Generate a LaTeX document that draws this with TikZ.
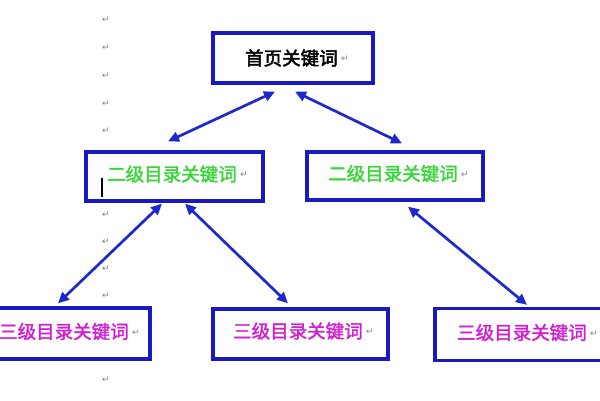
\documentclass[tikz,border=0pt]{standalone}
\usepackage{fontspec}
\newfontfamily\cjk[FakeBold=1.8]{Noto Sans CJK SC}
\newfontfamily\cjkb[FakeBold=2.6]{Noto Sans CJK SC}
\newfontfamily\dv{DejaVu Sans}
\usetikzlibrary{arrows.meta}
\definecolor{boxblue}{RGB}{25,25,195}
\definecolor{arrblue}{RGB}{30,40,205}
\definecolor{kgreen}{RGB}{55,215,55}
\definecolor{kmag}{RGB}{210,30,210}
\definecolor{retgray}{RGB}{130,130,130}
\begin{document}
\begin{tikzpicture}[x=1pt,y=-1pt,
  kbox/.style={draw=boxblue,line width=3.3pt,inner sep=0pt},
  ktext/.style={anchor=west,inner sep=0pt,font=\cjk\fontsize{18.5pt}{20pt}\selectfont},
  ktop/.style={anchor=west,inner sep=0pt,font=\cjkb\fontsize{18.5pt}{20pt}\selectfont,text=black},
  lvtwo/.style={ktext,text=kgreen},
  lvthree/.style={ktext,text=kmag},
  retmark/.style={inner sep=0pt,text=retgray,font=\dv\fontsize{9pt}{10pt}\selectfont},
  arr/.style={{Triangle[length=11pt,width=10pt]}-{Triangle[length=11pt,width=10pt]},draw=arrblue,line width=2.7pt}
]
\useasboundingbox (0,0) rectangle (600,400);
\fill[white] (0,0) rectangle (600,400);

% boxes
\node[kbox,minimum width=160pt,minimum height=50pt] (top) at (293,58) {};
\node[kbox,minimum width=177pt,minimum height=49pt] (La) at (174.5,176.5) {};
\node[kbox,minimum width=176pt,minimum height=48pt] (Lb) at (395,176) {};
\node[kbox,minimum width=172pt,minimum height=51pt] (Ma) at (64,333.5) {};
\node[kbox,minimum width=175pt,minimum height=50pt] (Mb) at (300.5,334) {};
\node[kbox,minimum width=177pt,minimum height=52pt] (Mc) at (523.5,334.5) {};

% texts
\node[ktop] (ttop) at (245,58) {首页关键词};
\node[lvtwo] (tLa) at (107,174) {二级目录关键词};
\node[lvtwo] (tLb) at (328,173.5) {二级目录关键词};
\node[lvthree] (tMa) at (-1,331.5) {三级目录关键词};
\node[lvthree] (tMb) at (233,331) {三级目录关键词};
\node[lvthree] (tMc) at (457,332.5) {三级目录关键词};

% paragraph marks after texts
\foreach \t in {ttop,tLa,tLb,tMa,tMb,tMc}
  \node[retmark,anchor=west] (r\t) at ([xshift=3pt,yshift=-1pt]\t.east) {↵};

% left column paragraph marks
\foreach \y [count=\i] in {20,48,76,104,131,215,242,269,296,380}
  \node[retmark] (lm\i) at (106,\y) {↵};

% text cursor
\node[fill=black,inner sep=0pt,minimum width=2pt,minimum height=19pt] (cursor) at (102,187.5) {};

% connectors
\draw[arr] ([xshift=-18pt,yshift=-7pt]top.south) -- ([xshift=-6.5pt,yshift=9pt]La.north);
\draw[arr] ([xshift=2pt,yshift=-7pt]top.south) -- ([xshift=7pt,yshift=7pt]Lb.north);
\draw[arr] ([xshift=-12.5pt,yshift=-1pt]La.south) -- ([xshift=-6pt,yshift=3pt]Ma.north);
\draw[arr] ([xshift=10.5pt,yshift=-1pt]La.south) -- ([xshift=-12.5pt,yshift=4pt]Mb.north);
\draw[arr] ([xshift=13pt,yshift=-5pt]Lb.south) -- ([xshift=3.5pt,yshift=2pt]Mc.north);
\end{tikzpicture}
\end{document}
